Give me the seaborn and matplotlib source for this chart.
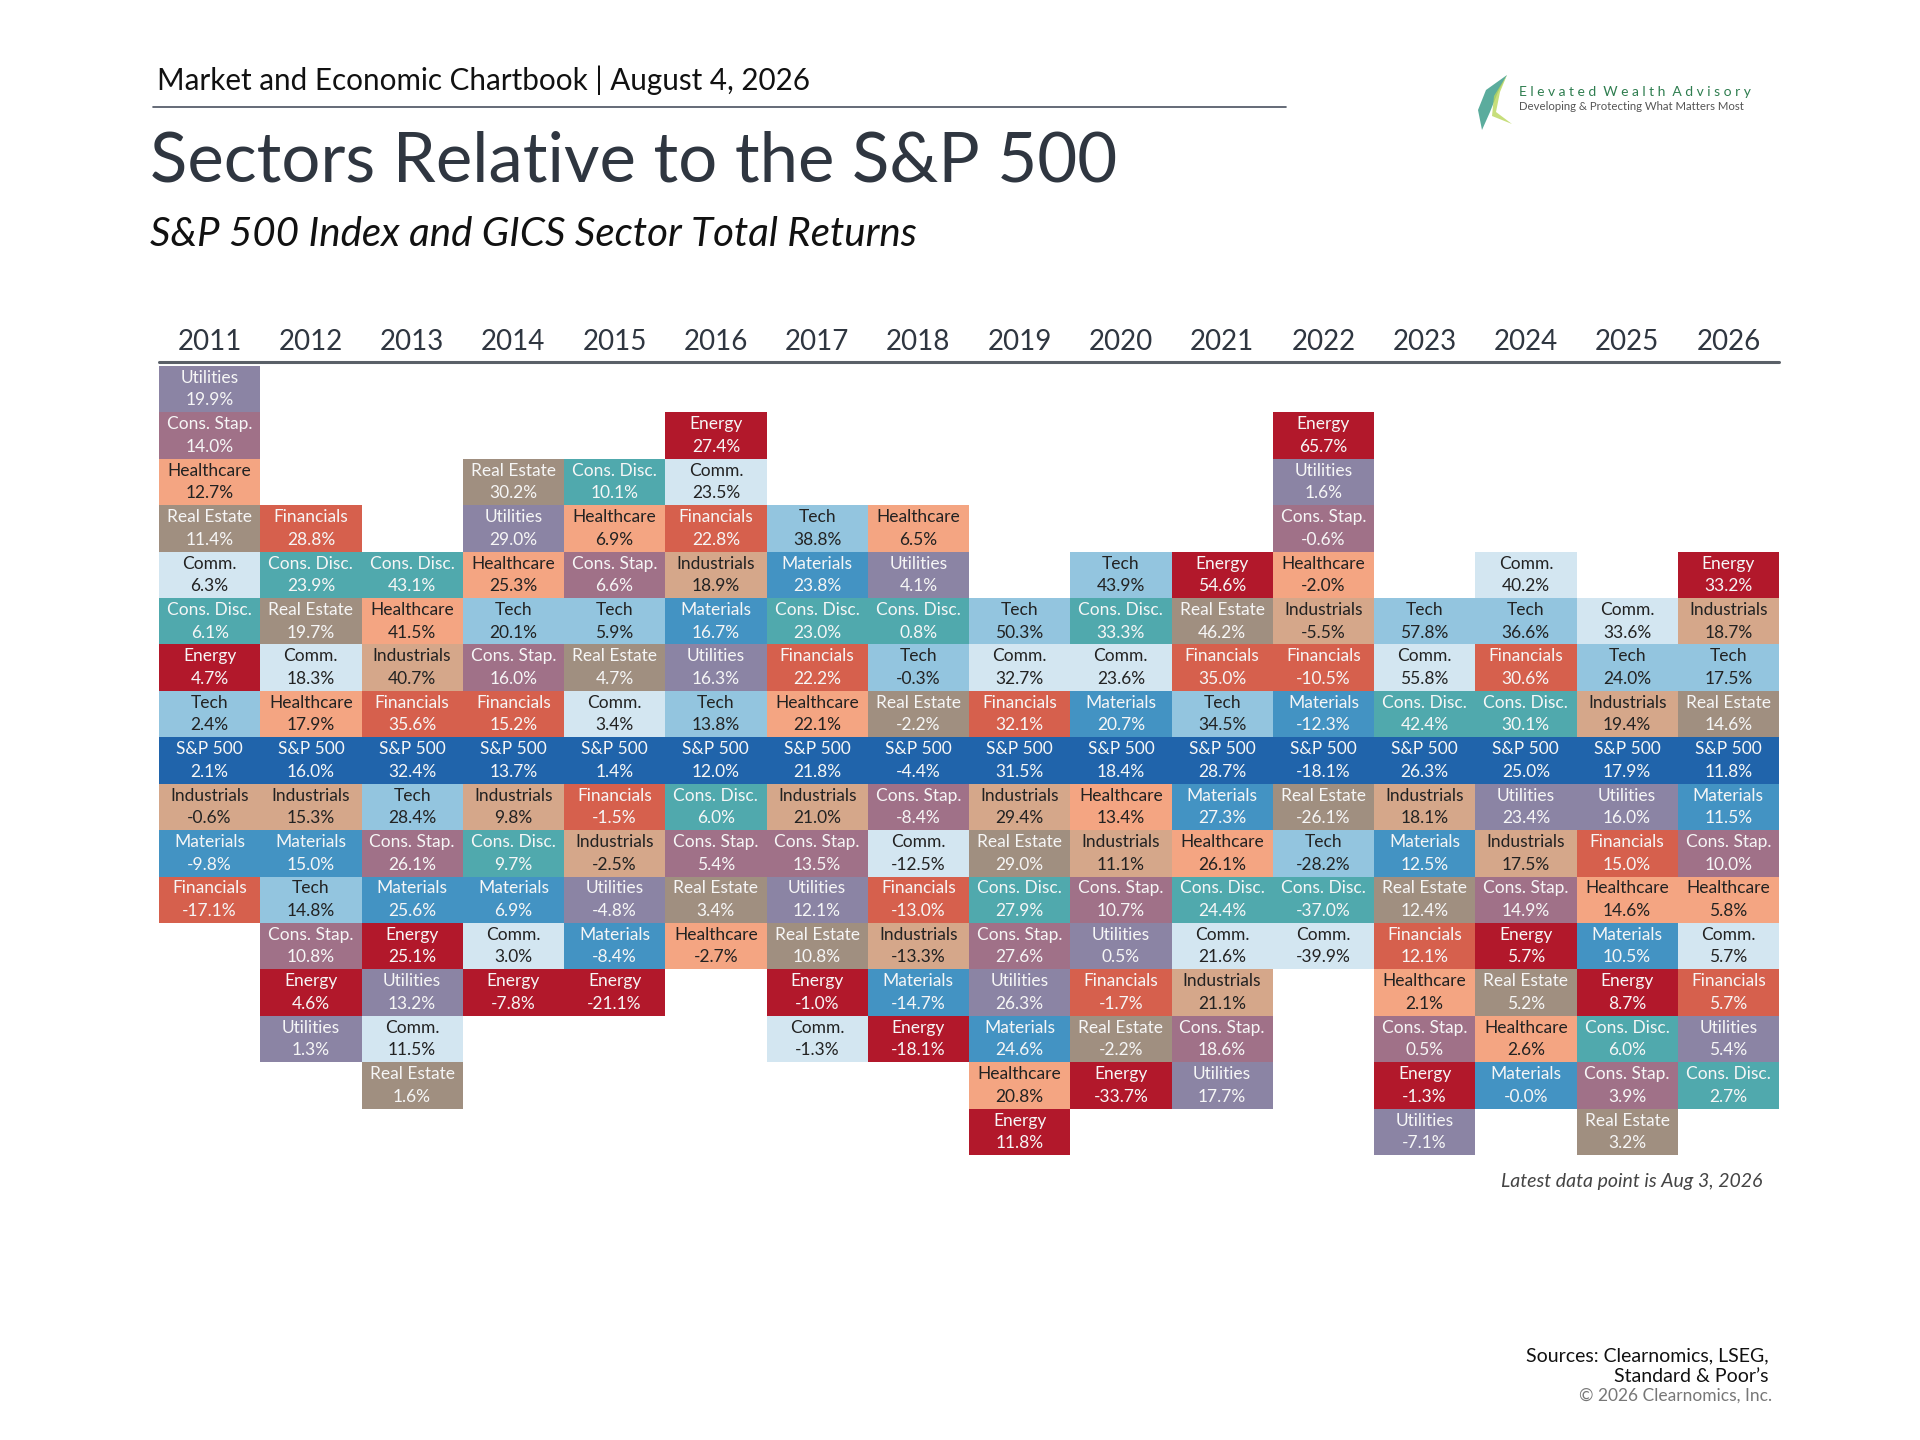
import numpy as np
import pandas as pd
import matplotlib.pyplot as plt
import seaborn as sns
from matplotlib.colors import ListedColormap
from matplotlib.patches import Polygon


years = [2011, 2012, 2013, 2014, 2015, 2016, 2017, 2018,
         2019, 2020, 2021, 2022, 2023, 2024, 2025, 2026]

# each year's sectors, best to worst
sector_ranks = [
    ["Utilities", "Cons. Stap.", "Healthcare", "Real Estate", "Comm.", "Cons. Disc.", "Energy", "Tech", "S&P 500", "Industrials", "Materials", "Financials"],
    ["Financials", "Cons. Disc.", "Real Estate", "Comm.", "Healthcare", "S&P 500", "Industrials", "Materials", "Tech", "Cons. Stap.", "Energy", "Utilities"],
    ["Cons. Disc.", "Healthcare", "Industrials", "Financials", "S&P 500", "Tech", "Cons. Stap.", "Materials", "Energy", "Utilities", "Comm.", "Real Estate"],
    ["Real Estate", "Utilities", "Healthcare", "Tech", "Cons. Stap.", "Financials", "S&P 500", "Industrials", "Cons. Disc.", "Materials", "Comm.", "Energy"],
    ["Cons. Disc.", "Healthcare", "Cons. Stap.", "Tech", "Real Estate", "Comm.", "S&P 500", "Financials", "Industrials", "Utilities", "Materials", "Energy"],
    ["Energy", "Comm.", "Financials", "Industrials", "Materials", "Utilities", "Tech", "S&P 500", "Cons. Disc.", "Cons. Stap.", "Real Estate", "Healthcare"],
    ["Tech", "Materials", "Cons. Disc.", "Financials", "Healthcare", "S&P 500", "Industrials", "Cons. Stap.", "Utilities", "Real Estate", "Energy", "Comm."],
    ["Healthcare", "Utilities", "Cons. Disc.", "Tech", "Real Estate", "S&P 500", "Cons. Stap.", "Comm.", "Financials", "Industrials", "Materials", "Energy"],
    ["Tech", "Comm.", "Financials", "S&P 500", "Industrials", "Real Estate", "Cons. Disc.", "Cons. Stap.", "Utilities", "Materials", "Healthcare", "Energy"],
    ["Tech", "Cons. Disc.", "Comm.", "Materials", "S&P 500", "Healthcare", "Industrials", "Cons. Stap.", "Utilities", "Financials", "Real Estate", "Energy"],
    ["Energy", "Real Estate", "Financials", "Tech", "S&P 500", "Materials", "Healthcare", "Cons. Disc.", "Comm.", "Industrials", "Cons. Stap.", "Utilities"],
    ["Energy", "Utilities", "Cons. Stap.", "Healthcare", "Industrials", "Financials", "Materials", "S&P 500", "Real Estate", "Tech", "Cons. Disc.", "Comm."],
    ["Tech", "Comm.", "Cons. Disc.", "S&P 500", "Industrials", "Materials", "Real Estate", "Financials", "Healthcare", "Cons. Stap.", "Energy", "Utilities"],
    ["Comm.", "Tech", "Financials", "Cons. Disc.", "S&P 500", "Utilities", "Industrials", "Cons. Stap.", "Energy", "Real Estate", "Healthcare", "Materials"],
    ["Comm.", "Tech", "Industrials", "S&P 500", "Utilities", "Financials", "Healthcare", "Materials", "Energy", "Cons. Disc.", "Cons. Stap.", "Real Estate"],
    ["Energy", "Industrials", "Tech", "Real Estate", "S&P 500", "Materials", "Cons. Stap.", "Healthcare", "Comm.", "Financials", "Utilities", "Cons. Disc."],
]

# total returns in %, same order as above
sector_returns = [
    [19.9, 14.0, 12.7, 11.4, 6.3, 6.1, 4.7, 2.4, 2.1, -0.6, -9.8, -17.1],
    [28.8, 23.9, 19.7, 18.3, 17.9, 16.0, 15.3, 15.0, 14.8, 10.8, 4.6, 1.3],
    [43.1, 41.5, 40.7, 35.6, 32.4, 28.4, 26.1, 25.6, 25.1, 13.2, 11.5, 1.6],
    [30.2, 29.0, 25.3, 20.1, 16.0, 15.2, 13.7, 9.8, 9.7, 6.9, 3.0, -7.8],
    [10.1, 6.9, 6.6, 5.9, 4.7, 3.4, 1.4, -1.5, -2.5, -4.8, -8.4, -21.1],
    [27.4, 23.5, 22.8, 18.9, 16.7, 16.3, 13.8, 12.0, 6.0, 5.4, 3.4, -2.7],
    [38.8, 23.8, 23.0, 22.2, 22.1, 21.8, 21.0, 13.5, 12.1, 10.8, -1.0, -1.3],
    [6.5, 4.1, 0.8, -0.3, -2.2, -4.4, -8.4, -12.5, -13.0, -13.3, -14.7, -18.1],
    [50.3, 32.7, 32.1, 31.5, 29.4, 29.0, 27.9, 27.6, 26.3, 24.6, 20.8, 11.8],
    [43.9, 33.3, 23.6, 20.7, 18.4, 13.4, 11.1, 10.7, 0.5, -1.7, -2.2, -33.7],
    [54.6, 46.2, 35.0, 34.5, 28.7, 27.3, 26.1, 24.4, 21.6, 21.1, 18.6, 17.7],
    [65.7, 1.6, -0.6, -2.0, -5.5, -10.5, -12.3, -18.1, -26.1, -28.2, -37.0, -39.9],
    [57.8, 55.8, 42.4, 26.3, 18.1, 12.5, 12.4, 12.1, 2.1, 0.5, -1.3, -7.1],
    [40.2, 36.6, 30.6, 30.1, 25.0, 23.4, 17.5, 14.9, 5.7, 5.2, 2.6, -0.0],
    [33.6, 24.0, 19.4, 17.9, 16.0, 15.0, 14.6, 10.5, 8.7, 6.0, 3.9, 3.2],
    [33.2, 18.7, 17.5, 14.6, 11.8, 11.5, 10.0, 5.8, 5.7, 5.7, 5.4, 2.7],
]

sectors = ["Utilities", "Cons. Stap.", "Healthcare", "Real Estate", "Comm.", "Cons. Disc.",
           "Energy", "Tech", "S&P 500", "Industrials", "Materials", "Financials"]
sector_colors = ["#8B84A4", "#A07188", "#F4A582", "#A08F80", "#D3E6F1", "#50A9AD",
                 "#B2182B", "#93C5DF", "#2064AB", "#D5A78A", "#4393C3", "#D6604D"]

SP_ROW = 8
N_ROWS = 17

# grid of sector codes, S&P 500 always sits on the same row
codes = np.full((N_ROWS, len(years)), np.nan)
labels = np.full((N_ROWS, len(years)), "", dtype=object)
for col, (names, rets) in enumerate(zip(sector_ranks, sector_returns)):
    start = SP_ROW - names.index("S&P 500")
    for k, (name, ret) in enumerate(zip(names, rets)):
        codes[start + k, col] = sectors.index(name)
        labels[start + k, col] = f"{name}\n{ret:.1f}%"

grid = pd.DataFrame(codes, columns=years)

sns.set_theme(style="white")
plt.rcParams["font.family"] = ["Lato", "DejaVu Sans"]

fig = plt.figure(figsize=(19.2, 14.4), dpi=100)
ax = fig.add_axes([159 / 1920, 1 - 1155 / 1440, 1620 / 1920, 789 / 1440])

sns.heatmap(grid, ax=ax, cmap=ListedColormap(sector_colors), vmin=-0.5, vmax=11.5,
            annot=labels, fmt="", cbar=False, linewidths=0,
            annot_kws={"fontsize": 12.5, "linespacing": 1.5})

# dark text on the light cells, near white on the rest
for t in ax.texts:
    if t.get_color() != "w":
        t.set_color("#222222")
    else:
        t.set_color("#F6F6F6")

ax.xaxis.tick_top()
ax.set_xticklabels([str(y) for y in years], fontsize=20, color="#2F3640")
ax.set_yticks([])
ax.tick_params(axis="x", length=0, pad=8)
ax.set_xlabel("")
ax.set_ylabel("")
for s in ax.spines.values():
    s.set_visible(False)
ax.axhline(-0.08, color="#5A6068", lw=2.2, clip_on=False)

# header
fig.text(157 / 1920, 1 - 80 / 1440, "Market and Economic Chartbook | August 4, 2026",
         fontsize=21.3, color="#111111", va="center", ha="left")
fig.add_artist(plt.Line2D([153 / 1920, 1286 / 1920], [1 - 107 / 1440, 1 - 107 / 1440],
                          color="#4A5260", lw=1.2))
fig.text(150 / 1920, 1 - 162 / 1440, "Sectors Relative to the S&P 500",
         fontsize=49.6, color="#2F3640", va="center", ha="left")
fig.text(150 / 1920, 1 - 234 / 1440, "S&P 500 Index and GICS Sector Total Returns",
         fontsize=29, style="italic", color="#111111", va="center", ha="left")

# logo
swoosh_a = [(1507, 75), (1486, 90), (1478, 110), (1482, 130), (1490, 112), (1498, 92)]
swoosh_b = [(1507, 75), (1494, 96), (1492, 116), (1512, 124), (1496, 112), (1500, 92)]
for pts, col, a in [(swoosh_a, "#3E9E8C", 0.85), (swoosh_b, "#B9D65A", 0.8)]:
    fig.add_artist(Polygon([(x / 1920, 1 - y / 1440) for x, y in pts], closed=True,
                           transform=fig.transFigure, facecolor=col, edgecolor="none", alpha=a))
fig.text(1519 / 1920, 1 - 92 / 1440, "E l e v a t e d  W e a l t h  A d v i s o r y", fontsize=10,
         color="#2E7D4F", va="center", ha="left")
fig.text(1519 / 1920, 1 - 107 / 1440, "Developing & Protecting What Matters Most", fontsize=8.2,
         color="#555555", va="center", ha="left")

# footnotes
fig.text(1762 / 1920, 1 - 1182 / 1440, "Latest data point is Aug 3, 2026", fontsize=14,
         style="italic", color="#444444", va="center", ha="right")
fig.text(1769 / 1920, 1 - 1366 / 1440, "Sources: Clearnomics, LSEG,\nStandard & Poor\u2019s",
         fontsize=14, color="#111111", va="center", ha="right", linespacing=1.25)
fig.text(1772 / 1920, 1 - 1396 / 1440, "\u00a9 2026 Clearnomics, Inc.", fontsize=12.5,
         color="#777777", va="center", ha="right")

fig.savefig("out.png", dpi=100)
